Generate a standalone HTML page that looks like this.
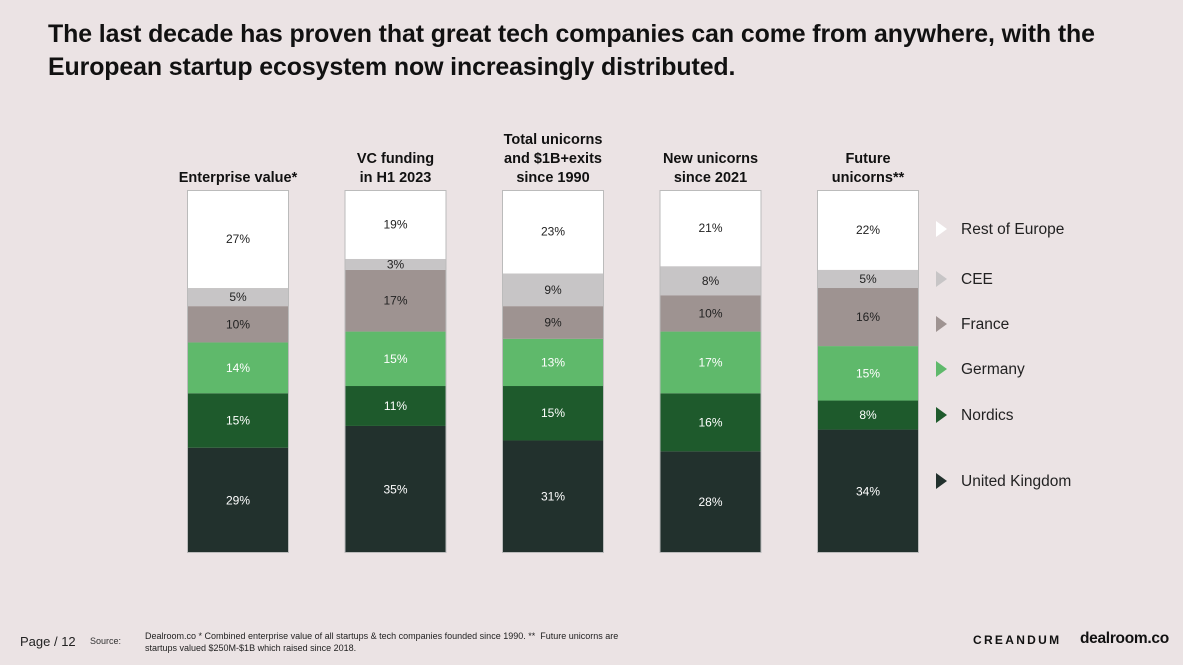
<!DOCTYPE html>
<html><head><meta charset="utf-8"><style>
body{margin:0;width:1183px;height:665px;background:#ebe3e4;font-family:"Liberation Sans",sans-serif;overflow:hidden;position:relative}
.t{position:absolute;left:48px;top:18px;font-size:24.9px;font-weight:bold;color:#111;line-height:33px;letter-spacing:-0.1px}
</style></head><body>
<div class="t">The last decade has proven that great tech companies can come from anywhere, with the<br>European startup ecosystem now increasingly distributed.</div>
<svg id="c" width="1183" height="665" style="position:absolute;left:0;top:0"></svg>
<script>
const categories=[["Enterprise value*"],["VC funding","in H1 2023"],["Total unicorns","and $1B+exits","since 1990"],["New unicorns","since 2021"],["Future","unicorns**"]];
const seriesNames=["United Kingdom","Nordics","Germany","France","CEE","Rest of Europe"];
const uk=[29,35,31,28,34];
const nordics=[15,11,15,16,8];
const germany=[14,15,13,17,15];
const france=[10,17,9,10,16];
const cee=[5,3,9,8,5];
const rest=[27,19,23,21,22];
const series=[uk,nordics,germany,france,cee,rest];
const colors=["#22312d","#1e5a2c","#5fb96b","#9e9391","#c7c5c6","#ffffff"];
const textCol=["#fff","#fff","#fff","#222","#222","#222"];
const legendY=[481,415,369,324,279,229];
const svg=document.getElementById('c');const NS="http://www.w3.org/2000/svg";
function mk(t,a,p){const e=document.createElementNS(NS,t);for(const k in a)e.setAttribute(k,a[k]);(p||svg).appendChild(e);return e;}
const x0=187,step=157.5,bw=102,yTop=190,yBot=553;
const xs=i=>x0+i*step;
const ys=v=>yBot-(v/100)*(yBot-yTop);
categories.forEach((lines,i)=>{
  const g=mk('g',{});
  
  
  let cum=0;
  series.forEach((s,j)=>{
    const y1=ys(cum),y2=ys(cum+s[i]);cum+=s[i];
    const r=mk('rect',{x:xs(i),y:y2,width:bw,height:y1-y2,fill:colors[j]},g);
    
    
    const t=mk('text',{x:xs(i)+bw/2,y:(y1+y2)/2+4,'text-anchor':'middle','font-size':12,fill:textCol[j]},g);
    t.textContent=s[i]+'%';
    
    
  });
  mk('rect',{x:xs(i)+0.5,y:yTop+0.5,width:bw-1,height:yBot-yTop-1,fill:'none',stroke:'#bbb','stroke-width':1},g);
  lines.forEach((l,k)=>{
    const t=mk('text',{x:xs(i)+bw/2,y:182-(lines.length-1-k)*19,'text-anchor':'middle','font-size':14.5,'font-weight':'bold',fill:'#111'});
    t.textContent=l;
    
    
  });
});
seriesNames.forEach((n,j)=>{
  const g=mk('g',{});
  
  
  const y=legendY[j];
  mk('path',{d:`M936 ${y-8} L947 ${y} L936 ${y+8} Z`,fill:colors[j]},g);
  const t=mk('text',{x:961,y:y+5,'font-size':15.5,fill:'#222'},g);t.textContent=n;
});
</script>
<div style="position:absolute;left:20px;top:634px;font-size:13px;color:#222">Page / 12</div>
<div style="position:absolute;left:90px;top:636px;font-size:9px;color:#333">Source:</div>
<div style="position:absolute;left:145px;top:630px;font-size:9px;color:#222;line-height:12px">Dealroom.co * Combined enterprise value of all startups &amp; tech companies founded since 1990. **&nbsp; Future unicorns are<br>startups valued $250M-$1B which raised since 2018.</div>
<div style="position:absolute;left:973px;top:633px;font-size:12px;font-weight:bold;letter-spacing:2.3px;color:#111">CREANDUM</div>
<div style="position:absolute;left:1080px;top:630px;font-size:15.5px;font-weight:bold;color:#111;letter-spacing:-0.3px">dealroom.co</div>
</body></html>
